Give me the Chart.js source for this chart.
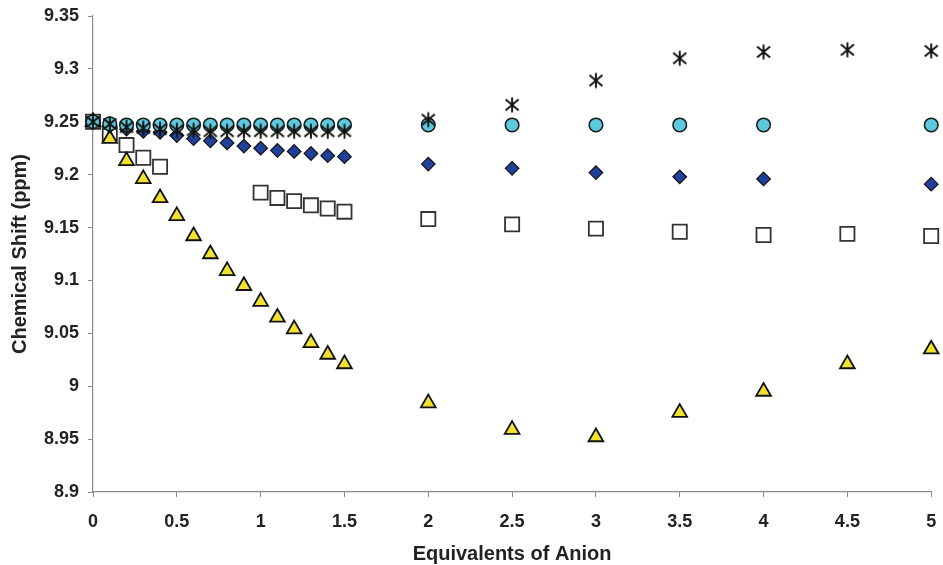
<!DOCTYPE html>
<html>
<head>
<meta charset="utf-8">
<script src="https://cdn.jsdelivr.net/npm/chart.js@4.4.0/dist/chart.umd.min.js"></script>
<style>
  html, body { margin: 0; padding: 0; background: #fff; }
  #wrap { width: 943px; height: 565px; }
</style>
</head>
<body>
<div id="wrap"><canvas id="chart" width="943" height="565"></canvas></div>
<script>
// equivalents of anion (x) shared by all series; null = no point at that x
const equivalents = [0, 0.1, 0.2, 0.3, 0.4, 0.5, 0.6, 0.7, 0.8, 0.9, 1.0, 1.1, 1.2, 1.3, 1.4, 1.5, 2, 2.5, 3, 3.5, 4, 4.5, 5];

const starShift = [9.25, 9.248, 9.245, 9.244, 9.243, 9.242, 9.242, 9.241, 9.241, 9.241, 9.241, 9.241, 9.241, 9.241, 9.241, 9.241, 9.252, 9.266, 9.289, 9.31, 9.316, 9.318, 9.317];
const circleShift = [9.25, 9.248, 9.247, 9.247, 9.247, 9.247, 9.247, 9.247, 9.247, 9.247, 9.247, 9.247, 9.247, 9.247, 9.247, 9.247, 9.247, 9.247, 9.247, 9.247, 9.247, null, 9.247];
const diamondShift = [9.25, 9.246, 9.243, 9.241, 9.24, 9.237, 9.234, 9.232, 9.23, 9.227, 9.225, 9.223, 9.222, 9.22, 9.218, 9.217, 9.21, 9.206, 9.202, 9.198, 9.196, null, 9.191];
const squareShift = [9.25, 9.239, 9.228, 9.216, 9.2075, null, null, null, null, null, 9.183, 9.178, 9.175, 9.171, 9.168, 9.165, 9.158, 9.153, 9.149, 9.146, 9.143, 9.144, 9.142];
const triangleShift = [9.25, 9.234, 9.213, 9.196, 9.178, 9.161, 9.142, 9.125, 9.109, 9.095, 9.08, 9.065, 9.054, 9.041, 9.03, 9.021, 8.984, 8.959, 8.952, 8.975, 8.995, 9.021, 9.035];

const xTicks = ["0", "0.5", "1", "1.5", "2", "2.5", "3", "3.5", "4", "4.5", "5"];
const yTicks = ["8.9", "8.95", "9", "9.05", "9.1", "9.15", "9.2", "9.25", "9.3", "9.35"];

function points(ys) {
  return equivalents.map((x, i) => ({ x: x, y: ys[i] })).filter((p) => p.y !== null);
}

// Excel-style asterisk marker (X with a vertical bar)
function asteriskMarker() {
  const c = document.createElement("canvas");
  c.width = 18;
  c.height = 18;
  const g = c.getContext("2d");
  g.strokeStyle = "#111";
  g.lineWidth = 1.9;
  g.beginPath();
  g.moveTo(9, 1.5); g.lineTo(9, 16.5);
  g.moveTo(2.5, 3.5); g.lineTo(15.5, 14.5);
  g.moveTo(15.5, 3.5); g.lineTo(2.5, 14.5);
  g.stroke();
  return c;
}

const tickFont = { family: "'Liberation Sans', Arial, sans-serif", size: 18, weight: "bold" };
const titleFont = { family: "'Liberation Sans', Arial, sans-serif", size: 20, weight: "bold" };

new Chart(document.getElementById("chart"), {
  type: "scatter",
  data: {
    datasets: [
      { label: "star", data: points(starShift), pointStyle: asteriskMarker(), pointRadius: 9, clip: false },
      { label: "circle", data: points(circleShift), pointStyle: "circle", pointRadius: 6.8,
        backgroundColor: "#5ec8dc", borderColor: "#1a1a1a", borderWidth: 1.5, clip: false },
      { label: "diamond", data: points(diamondShift), pointStyle: "rectRot", pointRadius: 6.8,
        backgroundColor: "#20419a", borderColor: "#111", borderWidth: 1.2, clip: false },
      { label: "triangle", data: points(triangleShift), pointStyle: "triangle", pointRadius: 8.5,
        backgroundColor: "#f0e22e", borderColor: "#111", borderWidth: 1.8, clip: false },
      { label: "square", data: points(squareShift), pointStyle: "rect", pointRadius: 10,
        backgroundColor: "#ffffff", borderColor: "#333", borderWidth: 1.8, clip: false },
    ],
  },
  options: {
    responsive: false,
    animation: false,
    layout: { padding: { top: 16, right: 9, left: 0, bottom: 0 } },
    plugins: { legend: { display: false }, tooltip: { enabled: false } },
    scales: {
      x: {
        type: "linear",
        min: 0,
        max: 5,
        afterFit: (s) => { s.height = 73; s.paddingLeft = 0; s.paddingRight = 0; },
        afterBuildTicks: (s) => { s.ticks = xTicks.map((t) => ({ value: parseFloat(t) })); },
        ticks: {
          color: "#222",
          font: tickFont,
          padding: 14,
          maxRotation: 0,
          callback: (v) => xTicks.find((t) => parseFloat(t) === v),
        },
        grid: { drawOnChartArea: false, drawTicks: true, tickLength: 5, color: "#8a8a8a" },
        border: { display: true, color: "#8a8a8a", width: 1.2 },
        title: { display: true, text: "Equivalents of Anion", color: "#222", font: titleFont, padding: { top: 0, bottom: -1 } },
      },
      y: {
        type: "linear",
        min: 8.9,
        max: 9.35,
        afterFit: (s) => { s.width = 93; s.paddingTop = 0; s.paddingBottom = 0; },
        afterBuildTicks: (s) => { s.ticks = yTicks.map((t) => ({ value: parseFloat(t) })); },
        ticks: {
          color: "#222",
          font: tickFont,
          padding: 9,
          callback: (v) => yTicks.find((t) => Math.abs(parseFloat(t) - v) < 1e-6),
        },
        grid: { drawOnChartArea: false, drawTicks: true, tickLength: 5, color: "#8a8a8a" },
        border: { display: true, color: "#8a8a8a", width: 1.2 },
        title: { display: true, text: "Chemical Shift (ppm)", color: "#222", font: titleFont, padding: { top: 8, bottom: 0 } },
      },
    },
  },
});
</script>
</body>
</html>
